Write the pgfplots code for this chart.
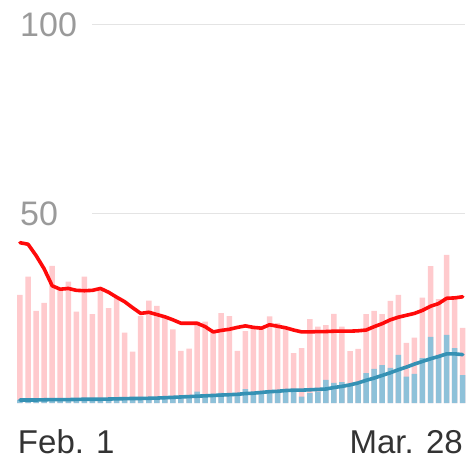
\documentclass[border=0pt]{standalone}
\usepackage{pgfplots}
\usepackage{pgfplotstable}
\pgfplotsset{compat=1.18}
\usepackage{fontspec}
\setmainfont{Liberation Sans}
\definecolor{pinkbar}{HTML}{FFCACD}
\definecolor{bluebar}{HTML}{8EC1D9}
\definecolor{blueline}{HTML}{3591B4}
\definecolor{redline}{HTML}{FF0A0A}
\definecolor{gridc}{HTML}{E4E4E4}
\definecolor{ylab}{HTML}{9A9A9A}
\definecolor{xlab}{HTML}{333333}

% day, pink bars, red 7-day line, blue bars, blue 7-day line
\pgfplotstableread{
d  pk    pa    bb    ba
0  28.6  42.4  0.8   0.8
1  33.4  42.0  1.0   0.8
2  24.4  39.0  0.7   0.8
3  26.5  35.5  1.0   0.85
4  36.3  31.0  1.2   0.9
5  29.9  30.1  0.8   0.9
6  32.1  30.3  1.0   0.9
7  24.2  29.8  0.9   0.95
8  33.4  29.7  1.1   1.0
9  23.5  29.8  1.3   1.0
10 29.9  30.3  1.0   1.0
11 25.1  29.3  1.2   1.05
12 27.8  28.0  1.4   1.1
13 18.6  26.8  1.1   1.15
14 13.6  25.2  1.3   1.2
15 23.0  23.7  1.6   1.2
16 27.1  24.0  1.2   1.25
17 25.7  23.4  1.5   1.3
18 22.5  22.8  1.8   1.4
19 19.5  22.0  1.4   1.5
20 13.8  21.1  1.6   1.6
21 14.4  21.1  1.9   1.7
22 21.5  21.1  3.0   1.8
23 21.5  20.2  2.0   1.9
24 18.8  18.8  2.2   2.0
25 23.8  19.2  2.7   2.1
26 23.0  19.5  2.6   2.2
27 13.8  20.0  2.3   2.3
28 19.0  20.4  3.7   2.5
29 19.6  20.0  2.5   2.6
30 19.6  19.8  2.8   2.8
31 22.9  20.7  3.3   3.0
32 21.1  20.3  3.0   3.1
33 19.6  19.9  3.5   3.3
34 13.2  19.3  3.2   3.4
35 14.5  18.8  1.7   3.4
36 22.2  18.8  2.6   3.5
37 20.2  18.9  3.0   3.6
38 20.6  18.9  6.1   3.7
39 23.6  19.0  5.3   4.1
40 20.2  19.0  5.5   4.4
41 13.7  19.0  5.0   4.8
42 14.3  19.1  4.9   5.3
43 23.5  19.3  7.9   6.0
44 24.4  20.2  9.0   6.6
45 23.5  21.0  10.0  7.3
46 27.0  22.0  9.3   8.0
47 28.6  22.7  12.7  8.8
48 15.9  23.2  7.0   9.5
49 17.3  23.7  7.7   10.3
50 27.9  24.5  11.9  11.0
51 36.2  25.6  17.5  11.7
52 27.5  26.3  12.7  12.3
53 39.2  27.7  18.0  13.0
54 28.0  27.8  14.5  13.0
55 19.9  28.1  7.4   12.8
}\daily

\begin{document}
\begin{tikzpicture}
\begin{axis}[
  width=467bp, height=459bp, scale only axis,
  xmin=-2.484, xmax=55.53, ymin=-14.81, ymax=106.6,
  axis line style={draw=none}, tick style={draw=none},
  major tick length=0pt,
  ytick={50,100},
  xtick={0,55},
  xticklabels={\makebox[0pt][l]{\hspace{-2bp}Feb. 1},\makebox[0pt][r]{Mar. 28}},
  /pgf/number format/assume math mode=true,
  yticklabel style={anchor=west, xshift=20bp, inner sep=0pt,
    font=\fontsize{34bp}{40bp}\selectfont, text=ylab},
  xticklabel style={anchor=base, yshift=6bp, inner sep=0pt,
    font=\fontsize{33bp}{40bp}\selectfont, text=xlab},
]
\draw[gridc, line width=1bp] (axis cs:8.94,100) -- (axis cs:55.28,100);
\draw[gridc, line width=1bp] (axis cs:8.94,50) -- (axis cs:55.28,50);
\addplot[ybar, bar width=5.5bp, bar shift=0pt, fill=pinkbar, draw=none] table[x=d, y=pk] {\daily};
\addplot[ybar, bar width=5.5bp, bar shift=0pt, fill=bluebar, draw=none] table[x=d, y=bb] {\daily};
\addplot[redline, line width=3.6bp, line join=round, line cap=round, no marks] table[x=d, y=pa] {\daily};
\addplot[blueline, line width=3.6bp, line join=round, line cap=round, no marks] table[x=d, y=ba] {\daily};
\end{axis}
\end{tikzpicture}
\end{document}
